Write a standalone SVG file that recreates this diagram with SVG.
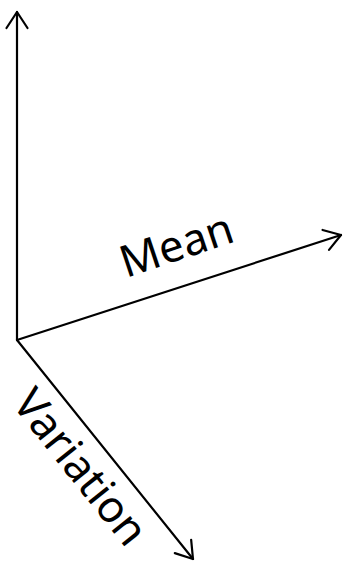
<svg xmlns="http://www.w3.org/2000/svg" width="347" height="563" viewBox="0 0 347 563">
<style>
.ax{fill:none;stroke:#000;stroke-width:2.2;stroke-linecap:round;stroke-linejoin:round}
.lb{font-family:"Noto Sans","Open Sans","DejaVu Sans",sans-serif;font-size:44px;fill:#000}
</style>
<defs>
<marker id="ah" markerUnits="userSpaceOnUse" markerWidth="40" markerHeight="40" refX="20" refY="20" orient="auto" viewBox="0 0 40 40">
<path d="M4,9.5 L20,20 L4,30.5" fill="none" stroke="#000" stroke-width="2.2" stroke-linecap="round" stroke-linejoin="round"/>
</marker>
</defs>
<g id="connectors">
<line id="y-axis" class="ax" x1="17" y1="340" x2="17" y2="12" marker-end="url(#ah)"/>
<line id="mean-axis" class="ax" x1="17" y1="340" x2="341" y2="235" marker-end="url(#ah)"/>
<line id="variation-axis" class="ax" x1="17" y1="340" x2="193" y2="559" marker-end="url(#ah)"/>
</g>
<g id="mean-label">
<text class="lb" transform="translate(126,278) rotate(-18.5)">Mean</text>
</g>
<g id="variation-label">
<text class="lb" transform="translate(11,404) rotate(51.5)">Variation</text>
</g>
</svg>
